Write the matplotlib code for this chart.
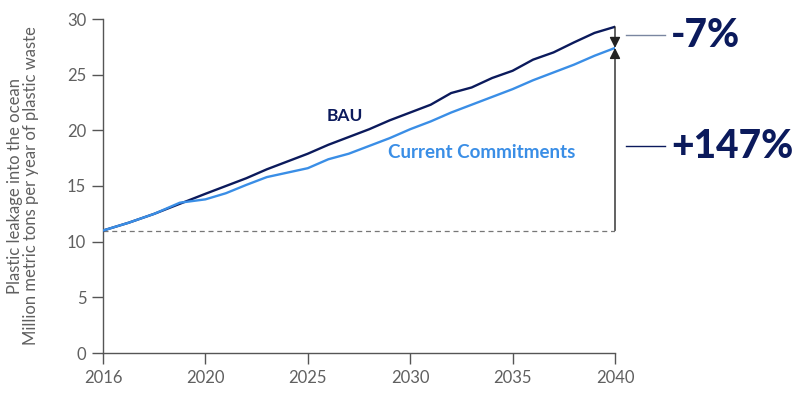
import numpy as np
import matplotlib
matplotlib.use("Agg")
import matplotlib.pyplot as plt

years = list(range(2016, 2041))
bau = [11.0, 11.7, 12.5, 13.4, 14.3, 15.0, 15.7, 16.5, 17.2, 17.9,
       18.7, 19.4, 20.1, 20.9, 21.6, 22.3, 23.35, 23.85, 24.7, 25.35,
       26.35, 27.0, 27.9, 28.75, 29.3]
current = [11.0, 11.7, 12.5, 13.5, 13.8, 14.35, 15.1, 15.8, 16.2, 16.6,
           17.4, 17.9, 18.6, 19.3, 20.1, 20.8, 21.6, 22.3, 23.0, 23.7,
           24.5, 25.2, 25.9, 26.7, 27.4]
xticks = [2016, 2020, 2025, 2030, 2035, 2040]
yticks = [0, 5, 10, 15, 20, 25, 30]
baseline = 11.0
labels = ["-7%", "+147%"]

navy = "#0b1a5c"
blue = "#3a8ee6"
grey = "#555555"

plt.rcParams["font.family"] = ["Lato", "DejaVu Sans"]

fig = plt.figure(figsize=(8, 4.01), dpi=100)
ax = fig.add_axes([103 / 800, 48 / 401, 512 / 800, 334 / 401])

# ticks are evenly spaced even though the first gap is 4 years
idx = np.arange(len(xticks))
ax.set_xscale("function", functions=(lambda x: np.interp(x, xticks, idx),
                                     lambda i: np.interp(i, idx, xticks)))

ax.plot(years, bau, color=navy, lw=1.7, zorder=3)
ax.plot(years, current, color=blue, lw=1.7, zorder=3)
ax.plot([years[0], years[-1]], [baseline, baseline], color="#777777",
        lw=0.9, ls=(0, (4, 3)), zorder=2)

ax.set_xlim(2016, 2040)
ax.set_ylim(0, 30)
ax.set_xticks(xticks)
ax.set_yticks(yticks)
for s in ["top", "right"]:
    ax.spines[s].set_visible(False)
for s in ["left", "bottom"]:
    ax.spines[s].set_color(grey)
    ax.spines[s].set_linewidth(1.0)
ax.tick_params(colors=grey, labelsize=12, length=8, width=1.0, pad=4)
for t in ax.get_xticklabels() + ax.get_yticklabels():
    t.set_color("#606060")
ax.set_ylabel("Plastic leakage into the ocean\nMillion metric tons per year of plastic waste",
              color="#606060", fontsize=12, labelpad=20, linespacing=1.05)

# arrows at 2040
ax.annotate("", xy=(years[-1], current[-1]), xytext=(years[-1], baseline),
            arrowprops=dict(arrowstyle="-|>", color="#222222", lw=1.0,
                            mutation_scale=16, shrinkA=0, shrinkB=0))
ax.annotate("", xy=(years[-1], current[-1]), xytext=(years[-1], bau[-1]),
            arrowprops=dict(arrowstyle="-|>", color="#222222", lw=1.0,
                            mutation_scale=16, shrinkA=0, shrinkB=0))

# leader lines and percentage labels
for lab, y, lc in [(labels[0], 28.55, "#7a86a0"), (labels[1], 18.55, navy)]:
    ax.plot([1.0215, 1.0977], [y, y], transform=ax.get_yaxis_transform(),
            color=lc, lw=1.0, clip_on=False)
    ax.text(1.11, y, lab, transform=ax.get_yaxis_transform(), color=navy,
            fontsize=28, fontweight="black", va="center", ha="left")

ax.text(2026.8, 21.3, "BAU", color=navy, fontsize=12.5, fontweight="bold",
        ha="center", va="center")
ax.text(2033.5, 18.0, "Current Commitments", color=blue, fontsize=13.5,
        fontweight="bold", ha="center", va="center")

fig.savefig("out.png", dpi=100)
